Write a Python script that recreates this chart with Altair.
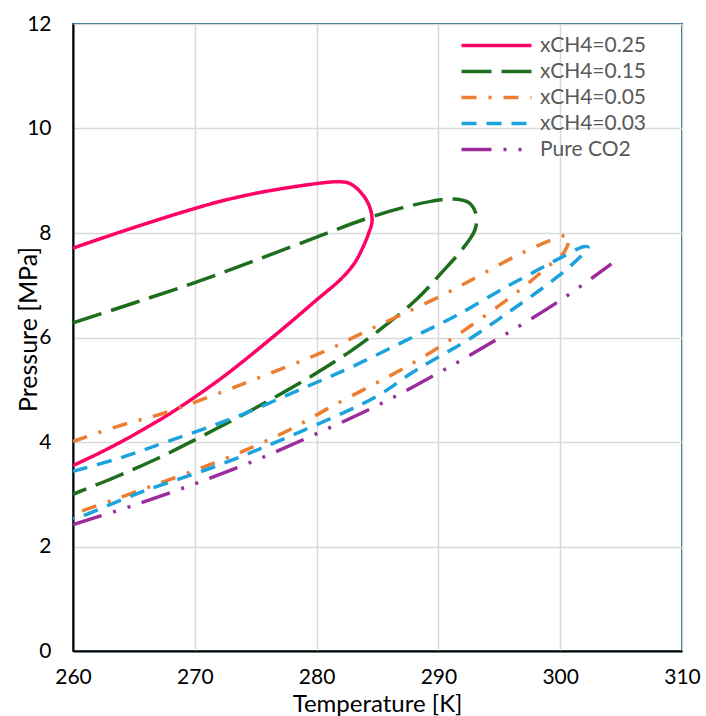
import altair as alt
import pandas as pd

# Phase envelopes of CO2/CH4 mixtures (temperature in K, pressure in MPa)
series_names = ["xCH4=0.25", "xCH4=0.15", "xCH4=0.05", "xCH4=0.03", "Pure CO2"]

t_025 = [260.0, 263.0, 266.0, 269.0, 272.0, 275.0, 278.0, 280.5, 281.6, 282.7,
         283.8, 284.4, 284.55, 284.25, 283.75, 283.1, 282.0, 280.0, 278.0, 276.0,
         274.0, 272.0, 270.0, 268.0, 266.0, 264.0, 262.0, 260.0]
p_025 = [7.71, 7.95, 8.18, 8.40, 8.60, 8.76, 8.88, 8.96, 8.98, 8.95,
         8.73, 8.47, 8.22, 7.98, 7.70, 7.42, 7.12, 6.72, 6.32, 5.93,
         5.55, 5.19, 4.86, 4.55, 4.27, 4.01, 3.77, 3.55]

t_015 = [260.0, 265.0, 270.0, 275.0, 280.0, 284.0, 287.0, 289.5, 291.3, 292.5,
         293.1, 293.0, 292.0, 290.3, 288.3, 285.7, 282.8, 279.5, 276.3, 273.2,
         270.0, 266.8, 263.5, 260.0]
p_015 = [6.28, 6.66, 7.05, 7.48, 7.92, 8.27, 8.48, 8.61, 8.65, 8.58,
         8.35, 8.06, 7.70, 7.25, 6.75, 6.24, 5.74, 5.25, 4.82, 4.43,
         4.04, 3.67, 3.33, 3.00]

t_005 = [260.0, 263.8, 267.7, 272.6, 276.0, 280.8, 283.7, 286.8, 290.6, 293.4,
         296.8, 299.9, 300.7, 300.4, 298.8, 296.3, 293.3, 290.3, 287.3, 284.5,
         281.0, 278.0, 275.0, 271.5, 267.7, 264.0, 260.0]
p_005 = [4.01, 4.31, 4.57, 4.99, 5.30, 5.75, 6.08, 6.42, 6.84, 7.19,
         7.61, 7.92, 7.95, 7.66, 7.32, 6.84, 6.33, 5.85, 5.43, 5.08,
         4.65, 4.26, 3.93, 3.59, 3.26, 2.95, 2.62]

t_003 = [260.0, 263.8, 267.9, 273.4, 279.1, 283.0, 287.3, 291.4, 295.5, 297.6,
         299.9, 302.0, 302.3, 301.5, 299.6, 295.8, 292.2, 289.8, 287.8, 284.9,
         278.0, 272.0, 265.7, 260.6, 260.0]
p_003 = [3.44, 3.69, 4.02, 4.48, 5.05, 5.45, 5.94, 6.41, 6.96, 7.22,
         7.51, 7.74, 7.72, 7.51, 7.13, 6.49, 5.92, 5.60, 5.32, 4.87,
         4.13, 3.56, 3.05, 2.57, 2.53]

t_co2 = [260.0, 265.0, 270.0, 275.0, 280.0, 285.0, 290.0, 295.0, 300.0, 304.2]
p_co2 = [2.42, 2.79, 3.20, 3.65, 4.16, 4.70, 5.32, 5.99, 6.71, 7.41]

line_colors = ["#FF0066", "#1E6E1E", "#ED7D31", "#1CA3DE", "#9B2C9B"]
line_dashes = [[1, 0], [30, 10], [15, 12, 3, 12], [15, 10], [30, 12, 3, 12, 3, 12]]

rows = []
for name, ts, ps in zip(series_names,
                        [t_025, t_015, t_005, t_003, t_co2],
                        [p_025, p_015, p_005, p_003, p_co2]):
    for i, (t, p) in enumerate(zip(ts, ps)):
        rows.append({"series": name, "T": t, "P": p, "idx": i})
df = pd.DataFrame(rows)

font = "Lato"

chart = (
    alt.Chart(df)
    .mark_line(strokeWidth=3.5, interpolate="catmull-rom", clip=True)
    .encode(
        x=alt.X("T:Q", title="Temperature [K]",
                scale=alt.Scale(domain=[260, 310], nice=False),
                axis=alt.Axis(values=[260, 270, 280, 290, 300, 310],
                              labelFlush=False, labelPadding=15,
                              titleX=304, titleY=53, titleBaseline="middle",
                              titleFontSize=24)),
        y=alt.Y("P:Q", title="Pressure [MPa]",
                scale=alt.Scale(domain=[0, 12], nice=False),
                axis=alt.Axis(values=[0, 2, 4, 6, 8, 10, 12],
                              labelPadding=22,
                              titleX=-45, titleY=305, titleBaseline="middle",
                              titleFontSize=25)),
        color=alt.Color("series:N", title=None,
                        scale=alt.Scale(domain=series_names, range=line_colors),
                        legend=alt.Legend(orient="none", legendX=413, legendY=11)),
        strokeDash=alt.StrokeDash("series:N", title=None,
                                  scale=alt.Scale(domain=series_names, range=line_dashes)),
        detail="series:N",
        order="idx:Q",
    )
    .properties(width=609, height=627,
                autosize=alt.AutoSizeParams(type="none"),
                padding={"left": 73, "top": 24, "right": 24, "bottom": 65})
    .configure_view(stroke="#1F5F86", strokeWidth=2)
    .configure_axis(
        grid=True, gridColor="#D9D9D9", gridWidth=1.5,
        domainColor="#000000", domainWidth=2,
        ticks=False,
        labelFont=font, labelFontSize=21, labelColor="#000000",
        titleFont=font, titleColor="#000000",
        titleFontWeight="normal",
    )
    .configure_legend(
        symbolType="M-5,0L5,0", symbolSize=196, symbolStrokeWidth=3.5,
        labelFont=font, labelFontSize=21, labelColor="#595959",
        labelOffset=33, rowPadding=4,
    )
)

chart.save("out.html", embed_options={"renderer": "svg", "actions": False})
